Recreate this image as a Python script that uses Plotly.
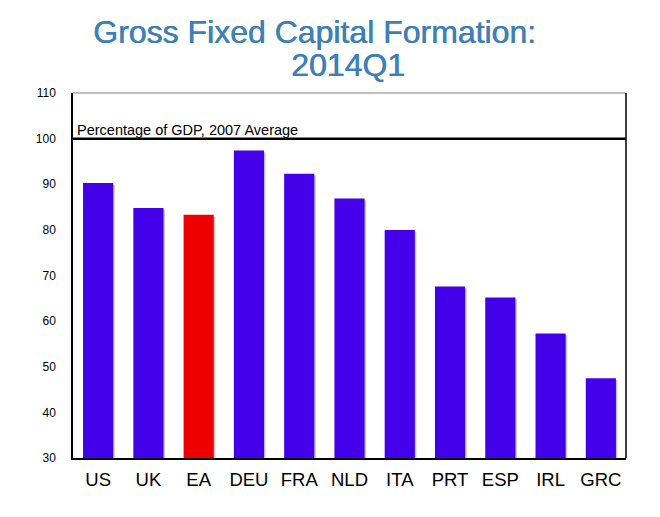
import plotly.graph_objects as go

countries = ["US", "UK", "EA", "DEU", "FRA", "NLD", "ITA", "PRT", "ESP", "IRL", "GRC"]
gfcf_pct = [90.3, 84.8, 83.3, 97.4, 92.3, 86.9, 80.0, 67.6, 65.2, 57.3, 47.5]
highlight = "EA"
ref_level = 100
y_ticks = [30, 40, 50, 60, 70, 80, 90, 100, 110]
title_lines = ["Gross Fixed Capital Formation:", "2014Q1"]

BLUE = "#4500EA"
RED = "#EE0000"
TITLE_BLUE = "#3D80B6"
FONT = "Liberation Sans, Arial, Helvetica, sans-serif"

colors = [RED if c == highlight else BLUE for c in countries]

fig = go.Figure()

# soft drop shadow behind bars
fig.add_trace(
    go.Bar(
        x=countries,
        y=[v - 30 for v in gfcf_pct],
        base=29.6,
        width=0.6,
        offset=-0.27,
        marker=dict(color="rgba(90,90,110,0.35)", line=dict(width=0)),
        hoverinfo="skip",
        showlegend=False,
    )
)

fig.add_trace(
    go.Bar(
        x=countries,
        y=[v - 30 for v in gfcf_pct],
        base=30,
        width=0.6,
        offset=-0.3,
        marker=dict(color=colors, line=dict(width=0)),
        customdata=gfcf_pct,
        hovertemplate="%{x}: %{customdata}<extra></extra>",
        showlegend=False,
    )
)

# 2007 average reference line
fig.add_shape(
    type="line", xref="paper", yref="y",
    x0=0, x1=1, y0=ref_level, y1=ref_level,
    line=dict(color="black", width=2.5),
)
fig.add_annotation(
    text="Percentage of GDP, 2007 Average",
    xref="paper", yref="y", x=0.004, y=ref_level,
    xanchor="left", yanchor="bottom", showarrow=False, yshift=-1,
    font=dict(size=14.5, color="black", family=FONT),
)

# title: two annotations to get the tight line spacing of the original
for line, xpos, ypos in zip(title_lines, [0.436, 0.497], [1.166, 1.078]):
    fig.add_annotation(
        text=line,
        xref="paper", yref="paper", x=xpos, y=ypos,
        xanchor="center", yanchor="middle", showarrow=False,
        font=dict(size=32, color=TITLE_BLUE, family=FONT,
                  shadow=f"0.6px 0px 0px {TITLE_BLUE}"),
    )

# frame: grey top, black right
fig.add_shape(type="line", xref="paper", yref="paper", x0=0, x1=1, y0=1, y1=1,
              line=dict(color="#808080", width=1))
fig.add_shape(type="line", xref="paper", yref="paper", x0=1, x1=1, y0=0, y1=1,
              line=dict(color="black", width=1.5))

fig.update_layout(
    barmode="overlay",
    width=652,
    height=509,
    margin=dict(l=65, r=34, t=85, b=59),
    paper_bgcolor="white",
    plot_bgcolor="white",
    xaxis=dict(
        showline=True, linecolor="black", linewidth=1.5,
        showgrid=False, ticks="",
        ticklabelstandoff=4,
        tickfont=dict(size=18.5, color="black", family=FONT),
    ),
    yaxis=dict(
        range=[30, 110], tickvals=y_ticks,
        showline=True, linecolor="black", linewidth=1.5,
        showgrid=False, zeroline=False, ticks="",
        ticklabelstandoff=13,
        tickfont=dict(size=12, color="black", family=FONT),
    ),
)

fig.write_html("out.html")
